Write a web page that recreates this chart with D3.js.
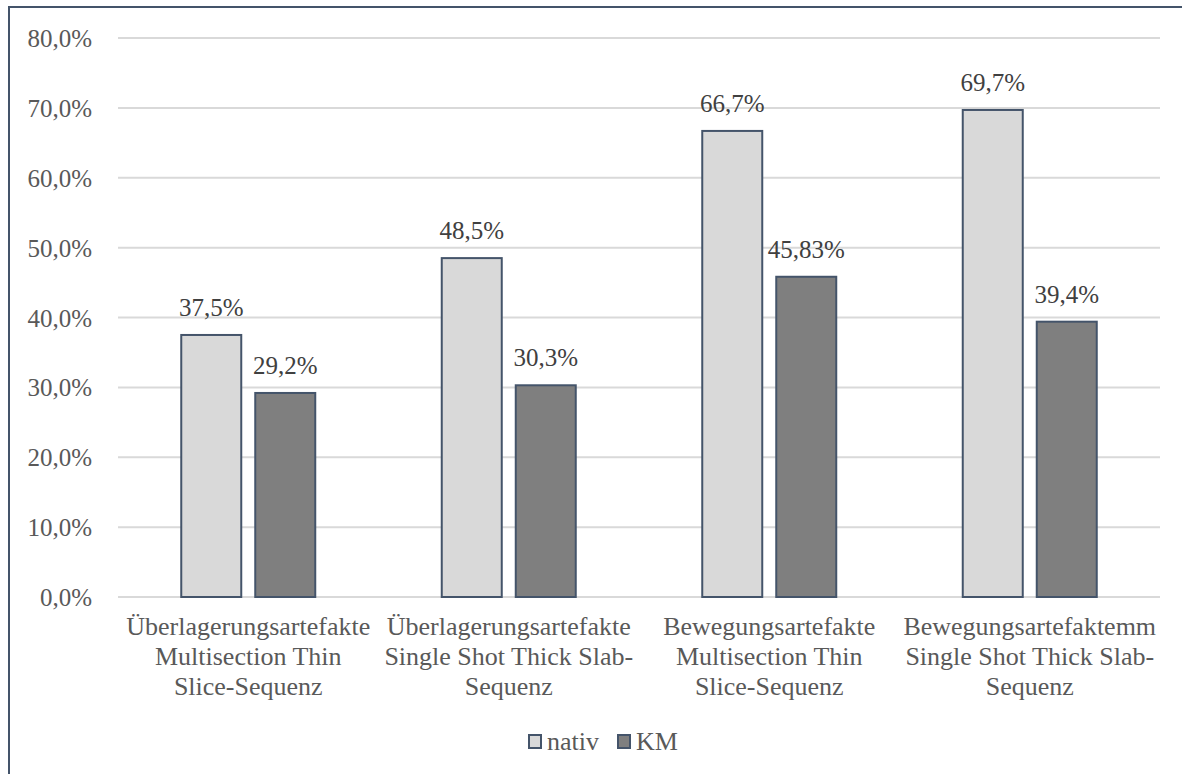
<!DOCTYPE html>
<html><head><meta charset="utf-8">
<script src="https://cdn.jsdelivr.net/npm/d3@7"></script>
<style>body{margin:0;background:#fff}svg{display:block}</style>
</head><body><svg id="c" width="1182" height="774" font-family="Liberation Serif, Times New Roman, serif"></svg>
<script>
const categories = [
  ["Überlagerungsartefakte","Multisection Thin","Slice-Sequenz"],
  ["Überlagerungsartefakte","Single Shot Thick Slab-","Sequenz"],
  ["Bewegungsartefakte","Multisection Thin","Slice-Sequenz"],
  ["Bewegungsartefaktemm","Single Shot Thick Slab-","Sequenz"]
];
const seriesNames = ["nativ","KM"];
const nativValues = [37.5, 48.5, 66.7, 69.7];
const kmValues = [29.2, 30.3, 45.83, 39.4];
const nativLabels = ["37,5%","48,5%","66,7%","69,7%"];
const kmLabels = ["29,2%","30,3%","45,83%","39,4%"];
const yTicks = [0,10,20,30,40,50,60,70,80];
const tickLabels = ["0,0%","10,0%","20,0%","30,0%","40,0%","50,0%","60,0%","70,0%","80,0%"];

(function(){
const colors = {nativ:"#d9d9d9", KM:"#7f7f7f"};
const stroke = "#44546a";
const FF = "Liberation Serif";
const svg = d3.select("#c");
svg.append("rect").attr("x",9).attr("y",7).attr("width",1190).attr("height",780)
  .attr("fill","#fff").attr("stroke",stroke).attr("stroke-width",2);

const L=118, R=1160, T=38, B=597;
const x0 = d3.scaleBand().domain(d3.range(categories.length)).range([L,R]);
const y = d3.scaleLinear().domain([0,80]).range([B,T]);
const bw = 60, gap = 14;

yTicks.forEach((t,i)=>{
  svg.append("line").attr("x1",L).attr("x2",R).attr("y1",y(t)).attr("y2",y(t))
    .attr("stroke","#d9d9d9").attr("stroke-width",2);
  svg.append("text").attr("x",92).attr("y",y(t)+9).attr("text-anchor","end")
    .attr("font-family",FF).attr("font-size",25).attr("fill","#595959").text(tickLabels[i]);
});

const series = [
  {name:"nativ", vals:nativValues, labels:nativLabels, off:-(bw+gap)/2},
  {name:"KM", vals:kmValues, labels:kmLabels, off:(bw+gap)/2}
];
series.forEach(s=>{
  s.vals.forEach((v,i)=>{
    const cx = x0(i)+x0.bandwidth()/2 + s.off;
    svg.append("rect").attr("x",cx-bw/2).attr("y",y(v)).attr("width",bw).attr("height",y(0)-y(v))
      .attr("fill",colors[s.name]).attr("stroke",stroke).attr("stroke-width",2);
    svg.append("text").attr("x",cx).attr("y",y(v)-19).attr("text-anchor","middle")
      .attr("font-family",FF).attr("font-size",25).attr("fill","#404040").text(s.labels[i]);
  });
});

categories.forEach((lines,i)=>{
  const cx = x0(i)+x0.bandwidth()/2;
  lines.forEach((ln,j)=>{
    svg.append("text").attr("x",cx).attr("y",635+j*30).attr("text-anchor","middle")
      .attr("font-family",FF).attr("font-size",26).attr("fill","#595959").text(ln);
  });
});

const items = [{n:"nativ",x:529},{n:"KM",x:618}];
items.forEach(it=>{
  svg.append("rect").attr("x",it.x).attr("y",735).attr("width",12).attr("height",13)
    .attr("fill",colors[it.n]).attr("stroke",stroke).attr("stroke-width",2);
  svg.append("text").attr("x",it.x+18).attr("y",750)
    .attr("font-family",FF).attr("font-size",26).attr("fill","#595959").text(it.n);
});
})();
</script></body></html>
